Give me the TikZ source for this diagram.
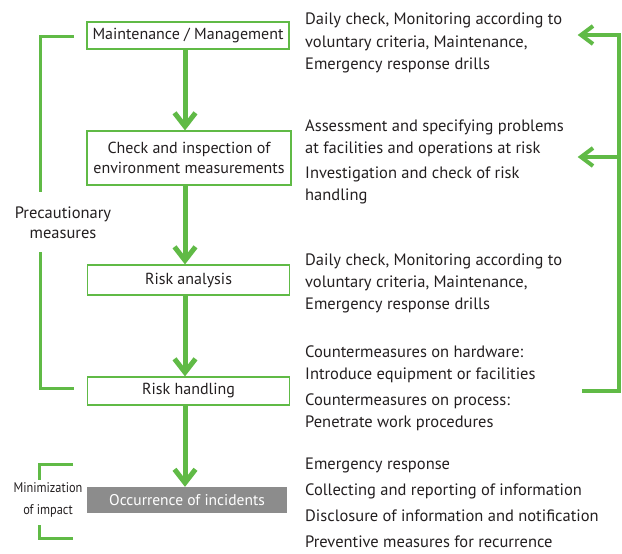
\documentclass[tikz,border=0pt]{standalone}
\usepackage{fontspec}
\usetikzlibrary{calc}
\setmainfont{PT Sans}
\newfontfamily\narrowfont[FakeStretch=0.88]{PT Sans}
\definecolor{grn}{RGB}{96,186,70}
\definecolor{txt}{RGB}{35,31,32}
\definecolor{gbox}{RGB}{140,140,140}
\begin{document}
\begin{tikzpicture}[x=1pt,y=-1pt,
  every node/.style={text=txt},
  stepbox/.style={draw=grn,line width=1.3pt,minimum width=202pt,inner sep=0pt,font=\fontsize{16}{20}\selectfont,align=center},
  grayboxs/.style={fill=gbox,minimum width=200pt,minimum height=26pt,inner sep=0pt,font=\fontsize{15.5}{19}\selectfont,text=white},
  desc/.style={anchor=west,inner sep=0pt,font=\fontsize{16.5}{20}\selectfont,text height=11.5pt,text depth=3pt},
  flow/.style={draw=grn,line width=5pt},
  head/.style={draw=grn,line width=5pt,miter limit=10},
  brk/.style={draw=grn,line width=3pt},
  rbrk/.style={draw=grn,line width=4pt},
  side/.style={align=center,inner sep=0pt}]
\useasboundingbox (0,0) rectangle (622,554);
\coordinate (ax) at (185,0);
% boxes
\node[stepbox,minimum height=27pt] (b1) at (188,35.5) {Maintenance / Management};
\node[stepbox,minimum height=54pt,minimum width=204pt] (b2) at (189,158) {Check and inspection of\\environment measurements};
\node[stepbox,minimum height=30pt] (b3) at (188.5,280) {Risk analysis};
\node[stepbox,minimum height=28pt] (b4) at (188.5,391) {Risk handling};
\node[grayboxs] (b5) at (187,500) {Occurrence of incidents};
% flow arrows
\foreach \a/\b in {b1/b2,b2/b3,b3/b4,b4/b5}{
  \draw[flow] (\a.south -| ax) -- ($(\b.north -| ax)+(0,-5)$);
  \draw[head] ($(\b.north -| ax)+(-10.5,-17.5)$) -- ($(\b.north -| ax)+(0,-4)$) -- ($(\b.north -| ax)+(10.5,-17.5)$);
}
% left bracket
\coordinate (lt) at (74,36);
\coordinate (lb) at (74,388);
\node[side,font=\fontsize{16.5}{20}\selectfont] (prec) at (63,223) {Precautionary\\measures};
\draw[brk] (lt) -- (40,36) -- (40,192);
\draw[brk] (40,252) -- (40,388) -- (lb);
% minimization bracket
\node[side,font=\narrowfont\fontsize{14}{22}\selectfont] (mini) at (48,500) {Minimization\\of impact};
\draw[brk] (73,464) -- (39,464) -- (39,480);
\draw[brk] (39,525) -- (39,538) -- (73,538);
% right bracket
\coordinate (ra) at (581,35);
\coordinate (rb) at (581,157);
\coordinate (rc) at (582,391);
\draw[rbrk] (ra) -- (619,35) -- (619,391) -- (rc);
\draw[rbrk] (rb) -- (619,157);
\draw[rbrk,miter limit=10] (593,26) -- (ra) -- (593,44);
\draw[rbrk,miter limit=10] (593,148) -- (rb) -- (593,166);
% descriptions
\node[desc] (t1) at (305,20) {Daily check, Monitoring according to};
\node[desc] (t2) at (305,43) {voluntary criteria, Maintenance,};
\node[desc] (t3) at (305,65) {Emergency response drills};
\node[desc] (t4) at (305,127) {Assessment and specifying problems};
\node[desc] (t5) at (305,149) {at facilities and operations at risk};
\node[desc] (t6) at (305,174) {Investigation and check of risk};
\node[desc] (t7) at (305,196) {handling};
\node[desc] (t8) at (305,261) {Daily check, Monitoring according to};
\node[desc] (t9) at (305,283) {voluntary criteria, Maintenance,};
\node[desc] (t10) at (305,305) {Emergency response drills};
\node[desc] (t11) at (305,353) {Countermeasures on hardware:};
\node[desc] (t12) at (305,375) {Introduce equipment or facilities};
\node[desc] (t13) at (305,401) {Countermeasures on process:};
\node[desc] (t14) at (305,423) {Penetrate work procedures};
\node[desc] (t15) at (305,465) {Emergency response};
\node[desc] (t16) at (305,491) {Collecting and reporting of information};
\node[desc] (t17) at (305,517) {Disclosure of information and notification};
\node[desc] (t18) at (305,543) {Preventive measures for recurrence};
\end{tikzpicture}
\end{document}
